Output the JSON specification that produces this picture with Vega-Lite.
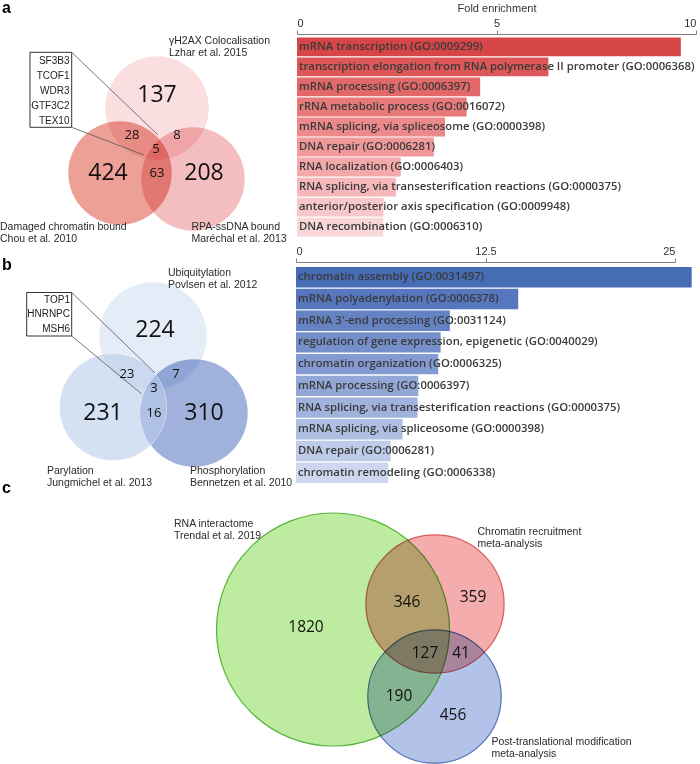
{
  "$schema": "https://vega.github.io/schema/vega-lite/v6.json",
  "width": 700,
  "height": 764,
  "autosize": {"type": "none"},
  "padding": 0,
  "background": "white",
  "config": {"view": {"stroke": null}, "axis": {"grid": false}},
  "datasets": {
    "circles": [
      {"panel": "a", "set": "yH2AX", "x": 157, "y": 108, "total": 178},
      {"panel": "a", "set": "Damaged", "x": 120, "y": 173, "total": 520},
      {"panel": "a", "set": "RPA", "x": 193, "y": 179, "total": 284},
      {"panel": "b", "set": "Ubiquitylation", "x": 153, "y": 336, "total": 257},
      {"panel": "b", "set": "Phosphorylation", "x": 194, "y": 413, "total": 336},
      {"panel": "b", "set": "Parylation", "x": 113, "y": 407, "total": 273},
      {"panel": "c", "set": "RNA interactome", "x": 333, "y": 629.5, "total": 2483},
      {"panel": "c", "set": "Chromatin recruitment", "x": 435, "y": 604, "total": 873},
      {"panel": "c", "set": "PTM", "x": 434.5, "y": 696.5, "total": 814}
    ],
    "counts": [
      {"kind": "big", "x": 157, "y": 95, "label": "137"},
      {"kind": "big", "x": 108, "y": 173, "label": "424"},
      {"kind": "big", "x": 204, "y": 173, "label": "208"},
      {"kind": "small", "x": 132, "y": 135, "label": "28"},
      {"kind": "small", "x": 177, "y": 135, "label": "8"},
      {"kind": "small", "x": 156, "y": 149, "label": "5"},
      {"kind": "small", "x": 157, "y": 173, "label": "63"},
      {"kind": "big", "x": 155, "y": 330, "label": "224"},
      {"kind": "big", "x": 103, "y": 413, "label": "231"},
      {"kind": "big", "x": 204, "y": 413, "label": "310"},
      {"kind": "small", "x": 127, "y": 374, "label": "23"},
      {"kind": "small", "x": 176, "y": 374, "label": "7"},
      {"kind": "small", "x": 154, "y": 388, "label": "3"},
      {"kind": "small", "x": 154, "y": 413, "label": "16"},
      {"kind": "mid", "x": 306, "y": 627, "label": "1820"},
      {"kind": "mid", "x": 407, "y": 602, "label": "346"},
      {"kind": "mid", "x": 473, "y": 597, "label": "359"},
      {"kind": "mid", "x": 425, "y": 653, "label": "127"},
      {"kind": "mid", "x": 461, "y": 653, "label": "41"},
      {"kind": "mid", "x": 399, "y": 696, "label": "190"},
      {"kind": "mid", "x": 453, "y": 715, "label": "456"}
    ],
    "setLabels": [
      {"x": 169, "y": 41, "label": "γH2AX Colocalisation"},
      {"x": 169, "y": 53, "label": "Lzhar et al. 2015"},
      {"x": 0, "y": 227, "label": "Damaged chromatin bound"},
      {"x": 0, "y": 239, "label": "Chou et al. 2010"},
      {"x": 191.5, "y": 227, "label": "RPA-ssDNA bound"},
      {"x": 191.5, "y": 239, "label": "Maréchal et al. 2013"},
      {"x": 168, "y": 273, "label": "Ubiquitylation"},
      {"x": 168, "y": 284.5, "label": "Povlsen et al. 2012"},
      {"x": 47, "y": 471, "label": "Parylation"},
      {"x": 47, "y": 483, "label": "Jungmichel et al. 2013"},
      {"x": 190, "y": 471, "label": "Phosphorylation"},
      {"x": 190, "y": 483, "label": "Bennetzen et al. 2010"},
      {"x": 174, "y": 524, "label": "RNA interactome"},
      {"x": 174, "y": 536, "label": "Trendal et al. 2019"},
      {"x": 477.5, "y": 531.5, "label": "Chromatin recruitment"},
      {"x": 477.5, "y": 543.5, "label": "meta-analysis"},
      {"x": 491.5, "y": 741.5, "label": "Post-translational modification"},
      {"x": 491.5, "y": 753.5, "label": "meta-analysis"}
    ],
    "genes": [
      {"x": 69.5, "y": 61, "label": "SF3B3"},
      {"x": 69.5, "y": 75.5, "label": "TCOF1"},
      {"x": 69.5, "y": 90.5, "label": "WDR3"},
      {"x": 69.5, "y": 105.5, "label": "GTF3C2"},
      {"x": 69.5, "y": 120.5, "label": "TEX10"},
      {"x": 70, "y": 299.5, "label": "TOP1"},
      {"x": 70, "y": 314, "label": "HNRNPC"},
      {"x": 70, "y": 329, "label": "MSH6"}
    ],
    "boxes": [
      {"x": 30, "y": 52.3, "x2": 71.7, "y2": 127.3},
      {"x": 26.7, "y": 292.5, "x2": 71.7, "y2": 336}
    ],
    "leaders": [
      {"x": 71.7, "y": 52.3, "x2": 158, "y2": 135},
      {"x": 71.7, "y": 127.3, "x2": 144, "y2": 155},
      {"x": 71.7, "y": 292.5, "x2": 155, "y2": 373},
      {"x": 71.7, "y": 336, "x2": 141.7, "y2": 394}
    ],
    "letters": [
      {"x": 2, "y": 8, "label": "a"},
      {"x": 2, "y": 265, "label": "b"},
      {"x": 2, "y": 488, "label": "c"}
    ],
    "barsA": [
      {"term": "mRNA transcription (GO:0009299)", "fold": 9.62},
      {"term": "transcription elongation from RNA polymerase II promoter (GO:0006368)", "fold": 6.3},
      {"term": "mRNA processing (GO:0006397)", "fold": 4.59},
      {"term": "rRNA metabolic process (GO:0016072)", "fold": 4.25},
      {"term": "mRNA splicing, via spliceosome (GO:0000398)", "fold": 3.71},
      {"term": "DNA repair (GO:0006281)", "fold": 3.43},
      {"term": "RNA localization (GO:0006403)", "fold": 2.6},
      {"term": "RNA splicing, via transesterification reactions (GO:0000375)", "fold": 2.48},
      {"term": "anterior/posterior axis specification (GO:0009948)", "fold": 2.17},
      {"term": "DNA recombination (GO:0006310)", "fold": 2.16}
    ],
    "barsB": [
      {"term": "chromatin assembly (GO:0031497)", "fold": 26.1},
      {"term": "mRNA polyadenylation (GO:0006378)", "fold": 14.66},
      {"term": "mRNA 3'-end processing (GO:0031124)", "fold": 10.15},
      {"term": "regulation of gene expression, epigenetic (GO:0040029)", "fold": 9.54},
      {"term": "chromatin organization (GO:0006325)", "fold": 9.38},
      {"term": "mRNA processing (GO:0006397)", "fold": 8.07},
      {"term": "RNA splicing, via transesterification reactions (GO:0000375)", "fold": 8.02},
      {"term": "mRNA splicing, via spliceosome (GO:0000398)", "fold": 7.03},
      {"term": "DNA repair (GO:0006281)", "fold": 6.24},
      {"term": "chromatin remodeling (GO:0006338)", "fold": 6.09}
    ]
  },
  "layer": [
    {
      "encoding": {
        "x": {"field": "x", "type": "quantitative", "scale": {"domain": [0, 700], "range": [0, 700], "nice": false, "zero": false}, "axis": null},
        "y": {"field": "y", "type": "quantitative", "scale": {"domain": [0, 764], "range": [0, 764], "nice": false, "zero": false}, "axis": null}
      },
      "layer": [
        {
          "data": {"name": "circles"},
          "transform": [{"filter": "datum.panel === 'a'"}],
          "mark": {"type": "point", "shape": "circle", "filled": true, "opacity": 1, "blend": "multiply", "size": 10700},
          "encoding": {
            "fill": {"field": "set", "type": "nominal", "legend": null,
              "scale": {"domain": ["yH2AX", "Damaged", "RPA", "Ubiquitylation", "Phosphorylation", "Parylation", "RNA interactome", "Chromatin recruitment", "PTM"],
                        "range": ["#fadee0", "#eca096", "#f4bec0", "#e4ecf7", "#a0b2dc", "#b9ceeb", "#bdeca0", "#f4acac", "#b2c2e8"]}}
          }
        },
        {
          "data": {"name": "circles"},
          "transform": [{"filter": "datum.panel === 'b' && datum.set !== 'Parylation'"}],
          "mark": {"type": "point", "shape": "circle", "filled": true, "opacity": 1, "blend": "multiply", "size": 11550},
          "encoding": {"fill": {"field": "set", "type": "nominal", "legend": null}}
        },
        {
          "data": {"name": "circles"},
          "transform": [{"filter": "datum.set === 'Parylation'"}],
          "mark": {"type": "point", "shape": "circle", "filled": true, "opacity": 0.6, "size": 11550, "stroke": "white", "strokeWidth": 0.8, "strokeOpacity": 0.9},
          "encoding": {"fill": {"field": "set", "type": "nominal", "legend": null}}
        },
        {
          "data": {"name": "circles"},
          "transform": [{"filter": "datum.panel === 'c'"}],
          "mark": {"type": "point", "shape": "circle", "filled": true, "opacity": 1, "blend": "multiply", "strokeWidth": 1.2},
          "encoding": {
            "fill": {"field": "set", "type": "nominal", "legend": null},
            "stroke": {"field": "set", "type": "nominal", "legend": null,
              "scale": {"domain": ["RNA interactome", "Chromatin recruitment", "PTM"], "range": ["#55b43a", "#d85a5a", "#5570b8"]}},
            "size": {"field": "total", "type": "quantitative", "legend": null, "scale": {"domain": [0, 2483], "range": [0, 54289], "zero": true}}
          }
        },
        {
          "data": {"name": "boxes"},
          "mark": {"type": "rect", "fill": "white", "stroke": "#333333", "strokeWidth": 1},
          "encoding": {"x2": {"field": "x2"}, "y2": {"field": "y2"}}
        },
        {
          "data": {"name": "leaders"},
          "mark": {"type": "rule", "color": "#555555", "strokeWidth": 0.8},
          "encoding": {"x2": {"field": "x2"}, "y2": {"field": "y2"}}
        },
        {
          "data": {"name": "counts"},
          "transform": [{"filter": "datum.kind === 'big'"}],
          "mark": {"type": "text", "font": "Open Sans", "fontSize": 23, "color": "#111111", "baseline": "middle", "align": "center"},
          "encoding": {"text": {"field": "label"}}
        },
        {
          "data": {"name": "counts"},
          "transform": [{"filter": "datum.kind === 'small'"}],
          "mark": {"type": "text", "font": "Open Sans", "fontSize": 13, "color": "#111111", "baseline": "middle", "align": "center"},
          "encoding": {"text": {"field": "label"}}
        },
        {
          "data": {"name": "counts"},
          "transform": [{"filter": "datum.kind === 'mid'"}],
          "mark": {"type": "text", "font": "Open Sans", "fontSize": 15.5, "color": "#111111", "baseline": "middle", "align": "center"},
          "encoding": {"text": {"field": "label"}}
        },
        {
          "data": {"name": "setLabels"},
          "mark": {"type": "text", "font": "Liberation Sans", "fontSize": 10.5, "color": "#2a2a2a", "baseline": "middle", "align": "left"},
          "encoding": {"text": {"field": "label"}}
        },
        {
          "data": {"name": "genes"},
          "mark": {"type": "text", "font": "Liberation Sans", "fontSize": 10, "color": "#222222", "baseline": "middle", "align": "right"},
          "encoding": {"text": {"field": "label"}}
        },
        {
          "data": {"name": "letters"},
          "mark": {"type": "text", "font": "Liberation Sans", "fontSize": 16, "fontWeight": "bold", "color": "#000000", "baseline": "middle", "align": "left"},
          "encoding": {"text": {"field": "label"}}
        }
      ]
    },
    {
      "data": {"name": "barsA"},
      "transform": [{"window": [{"op": "row_number", "as": "rank"}], "sort": [{"field": "fold", "order": "descending"}]}],
      "encoding": {
        "y": {"field": "term", "type": "nominal", "sort": {"field": "fold", "order": "descending"}, "axis": null,
              "scale": {"range": [37.5, 236.5], "paddingInner": 0.06, "paddingOuter": 0}},
        "x": {"field": "fold", "type": "quantitative",
              "scale": {"domain": [0, 10], "range": [297, 696], "nice": false},
              "axis": {"orient": "top", "offset": -34, "values": [0, 5, 10], "title": "Fold enrichment",
                       "titleFont": "Liberation Sans", "titleFontSize": 11, "titleFontWeight": "normal", "titleColor": "#333333", "titlePadding": 4,
                       "labelFont": "Liberation Sans", "labelFontSize": 11, "labelColor": "#333333", "labelPadding": 2,
                       "domainColor": "#808080", "tickColor": "#808080", "tickSize": 4}}
      },
      "layer": [
        {
          "mark": {"type": "bar"},
          "encoding": {"color": {"field": "rank", "type": "quantitative", "legend": null, "scale": {"domain": [1, 10], "range": ["#d64548", "#f9d7d9"]}}}
        },
        {
          "mark": {"type": "text", "font": "Open Sans", "fontWeight": 600, "fontSize": 11.3, "color": "#3a3a3a", "align": "left", "baseline": "middle", "dx": 2},
          "encoding": {"x": {"datum": 0}, "text": {"field": "term"}}
        }
      ]
    },
    {
      "data": {"name": "barsB"},
      "transform": [{"window": [{"op": "row_number", "as": "rank"}], "sort": [{"field": "fold", "order": "descending"}]}],
      "encoding": {
        "y": {"field": "term", "type": "nominal", "sort": {"field": "fold", "order": "descending"}, "axis": null,
              "scale": {"range": [267, 483], "paddingInner": 0.06, "paddingOuter": 0}},
        "x": {"field": "fold", "type": "quantitative",
              "scale": {"domain": [0, 25], "range": [296, 675], "nice": false},
              "axis": {"orient": "top", "offset": -262, "values": [0, 12.5, 25], "labelExpr": "toString(datum.value)", "title": null,
                       "labelFont": "Liberation Sans", "labelFontSize": 11, "labelColor": "#333333", "labelPadding": 2,
                       "domainColor": "#808080", "tickColor": "#808080", "tickSize": 4}}
      },
      "layer": [
        {
          "mark": {"type": "bar"},
          "encoding": {"color": {"field": "rank", "type": "quantitative", "legend": null, "scale": {"domain": [1, 10], "range": ["#466cb6", "#cdd8f0"]}}}
        },
        {
          "mark": {"type": "text", "font": "Open Sans", "fontWeight": 600, "fontSize": 11.3, "color": "#3a3a3a", "align": "left", "baseline": "middle", "dx": 2},
          "encoding": {"x": {"datum": 0}, "text": {"field": "term"}}
        }
      ]
    }
  ],
  "resolve": {
    "scale": {"x": "independent", "y": "independent", "color": "independent"},
    "axis": {"x": "independent", "y": "independent"}
  }
}
